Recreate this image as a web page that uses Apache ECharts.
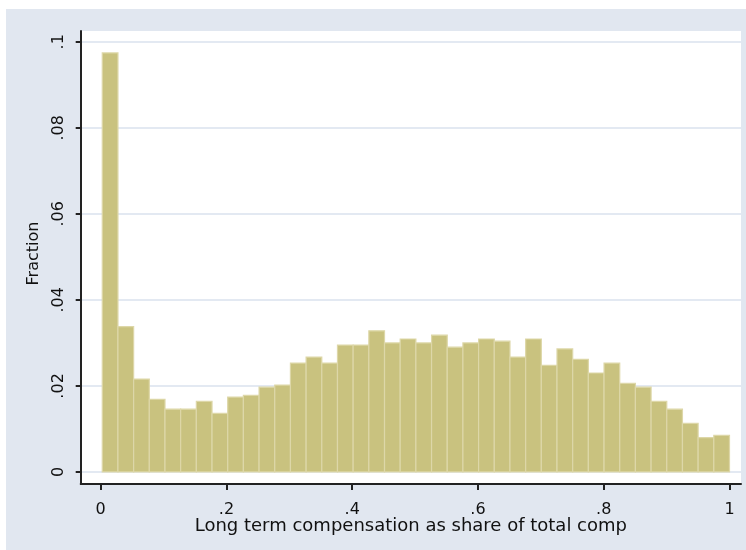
<!DOCTYPE html>
<html>
<head>
<meta charset="utf-8">
<script src="https://cdn.jsdelivr.net/npm/echarts@6/dist/echarts.min.js"></script>
<style>
html,body{margin:0;padding:0;background:#fff;}
#chart{width:746px;height:550px;}
</style>
</head>
<body>
<div id="chart"></div>
<script>
// Histogram data: fraction per bin (40 bins from binStart to binEnd)
var binStart = 0.0025;
var binEnd = 1.0;
var fractions = [
  0.0974, 0.0338, 0.0216, 0.0169, 0.0146, 0.0146, 0.0164, 0.0136, 0.0174, 0.0178,
  0.0197, 0.0202, 0.0253, 0.0267, 0.0253, 0.0295, 0.0295, 0.0328, 0.0300, 0.0309,
  0.0300, 0.0318, 0.0290, 0.0300, 0.0309, 0.0304, 0.0267, 0.0309, 0.0248, 0.0286,
  0.0262, 0.0230, 0.0253, 0.0206, 0.0197, 0.0164, 0.0146, 0.0113, 0.0080, 0.0085
];
var xTicks = [0, 0.2, 0.4, 0.6, 0.8, 1];
var xTickLabels = ['0', '.2', '.4', '.6', '.8', '1'];
var yTicks = [0, 0.02, 0.04, 0.06, 0.08, 0.1];
var yTickLabels = ['0', '.02', '.04', '.06', '.08', '.1'];
var xTitle = 'Long term compensation as share of total comp';
var yTitle = 'Fraction';

var binW = (binEnd - binStart) / fractions.length;
var histData = fractions.map(function (f, i) {
  return [binStart + i * binW, binStart + (i + 1) * binW, f];
});

function fmt(list, labels) {
  return function (v) {
    for (var i = 0; i < list.length; i++) {
      if (Math.abs(list[i] - v) < 1e-9) return labels[i];
    }
    return '';
  };
}

var chart = echarts.init(document.getElementById('chart'), null, {renderer: 'canvas'});
var font = 'DejaVu Sans';
chart.setOption({
  backgroundColor: '#ffffff',
  animation: false,
  graphic: [{
    type: 'rect', z: -10,
    shape: {x: 6, y: 9, width: 740, height: 541},
    style: {fill: '#e1e7f0'}
  }],
  grid: {
    left: 80.7, right: 5, top: 31, bottom: 66,
    show: true, backgroundColor: '#ffffff', borderWidth: 0,
    containLabel: false
  },
  xAxis: {
    type: 'value',
    min: -0.0318, max: 1.0183,
    name: xTitle,
    nameLocation: 'middle',
    nameGap: 33,
    nameMoveOverlap: false,
    nameTextStyle: {fontFamily: font, fontSize: 18, color: '#111'},
    axisLine: {show: true, onZero: false, lineStyle: {color: '#222', width: 2}},
    axisTick: {show: true, length: 6, customValues: xTicks, lineStyle: {color: '#222', width: 2}},
    axisLabel: {customValues: xTicks, formatter: fmt(xTicks, xTickLabels), margin: 18,
      fontFamily: font, fontSize: 16, color: '#111'},
    splitLine: {show: false}
  },
  yAxis: {
    type: 'value',
    min: -0.0028, max: 0.1025,
    name: yTitle,
    nameLocation: 'middle',
    nameGap: 39,
    nameMoveOverlap: false,
    nameRotate: 90,
    nameTextStyle: {fontFamily: font, fontSize: 16, color: '#111', padding: [0, 0, 0, 8]},
    axisLine: {show: true, onZero: false, lineStyle: {color: '#222', width: 2}},
    axisTick: {show: true, length: 5, customValues: yTicks, lineStyle: {color: '#222', width: 2}},
    axisLabel: {customValues: yTicks, formatter: fmt(yTicks, yTickLabels), rotate: 90, margin: 14,
      fontFamily: font, fontSize: 16, color: '#111'},
    splitLine: {show: true, lineStyle: {color: '#e3e9f2', width: 2}}
  },
  series: [{
    type: 'custom',
    renderItem: function (params, api) {
      var p0 = api.coord([api.value(0), 0]);
      var p1 = api.coord([api.value(1), api.value(2)]);
      return {
        type: 'rect',
        shape: {x: p0[0], y: p1[1], width: p1[0] - p0[0], height: p0[1] - p1[1]},
        style: {fill: '#c9c27f', stroke: '#ddd7a8', lineWidth: 1.2}
      };
    },
    encode: {x: [0, 1], y: 2},
    data: histData
  }]
});
</script>
</body>
</html>
